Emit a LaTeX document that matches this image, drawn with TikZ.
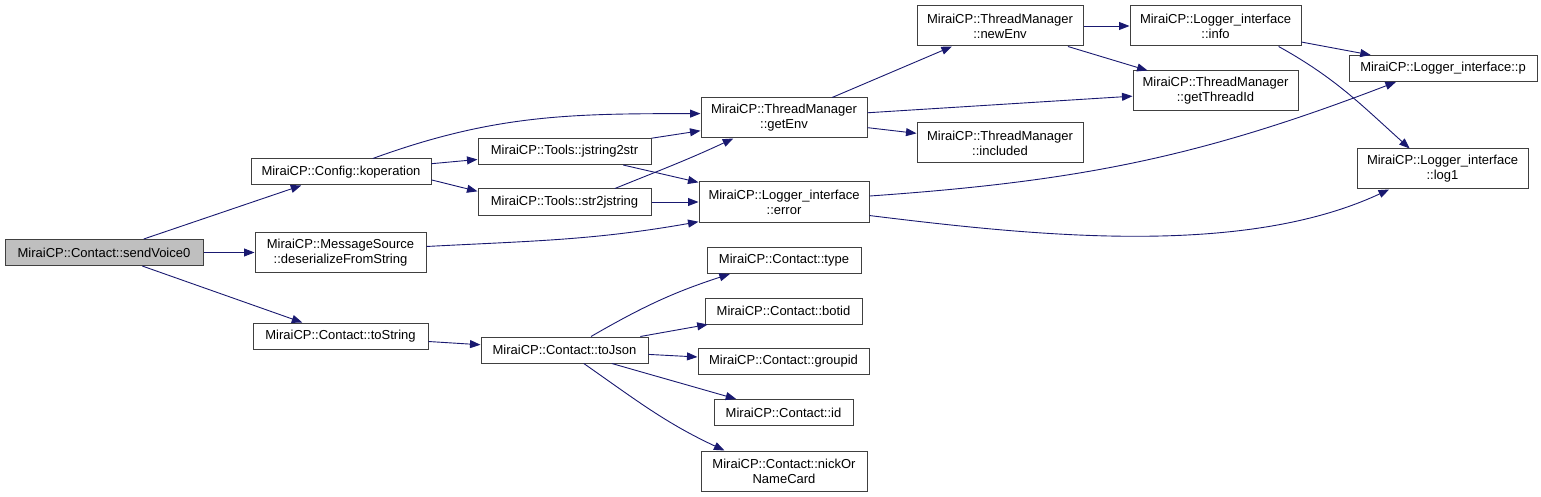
\documentclass[tikz,border=0pt]{standalone}
\usepackage{fontspec}
\setmainfont{Liberation Sans}
\usetikzlibrary{arrows.meta}

\definecolor{callblue}{RGB}{25,25,112}
\definecolor{boxline}{RGB}{64,64,64}
\definecolor{rootfill}{RGB}{191,191,191}

\begin{document}
\begin{tikzpicture}[x=1pt, y=1pt, >={Triangle[length=10.5pt, width=8pt]},
    font=\fontsize{13}{15}\selectfont,
    fn/.style={draw=boxline, line width=1pt, fill=white, inner sep=0pt, align=center},
    root/.style={fn, fill=rootfill},
    oneline/.style={minimum height=26pt},
    twoline/.style={minimum height=40pt},
    call/.style={->, callblue, line width=0.9pt}]
    \useasboundingbox (0,0) rectangle (1541,-497);

    % --- Caller ---
    \node[root, oneline, minimum width=198pt] (sendvoice) at (104,-252.5) {MiraiCP::Contact::sendVoice0};

    % --- First level ---
    \node[fn, oneline, minimum width=180pt] (koperation) at (341,-172) {MiraiCP::Config::koperation};
    \node[fn, twoline, minimum width=171pt] (deserialize) at (340.5,-252.5) {MiraiCP::MessageSource\\::deserializeFromString};
    \node[fn, oneline, minimum width=175pt] (tostring) at (340.5,-336) {MiraiCP::Contact::toString};

    % --- Second level ---
    \node[fn, oneline, minimum width=173pt] (jstr) at (564.5,-151.5) {MiraiCP::Tools::jstring2str};
    \node[fn, oneline, minimum width=173pt] (strj) at (564.5,-202) {MiraiCP::Tools::str2jstring};
    \node[fn, oneline, minimum width=167pt] (tojson) at (564.5,-350) {MiraiCP::Contact::toJson};

    % --- Third level ---
    \node[fn, twoline, minimum width=166pt] (getenv) at (784,-118) {MiraiCP::ThreadManager\\::getEnv};
    \node[fn, twoline, minimum width=170pt] (error) at (784,-202) {MiraiCP::Logger\_interface\\::error};
    \node[fn, oneline, minimum width=154pt] (type) at (784,-260.5) {MiraiCP::Contact::type};
    \node[fn, oneline, minimum width=157pt] (botid) at (783.5,-311) {MiraiCP::Contact::botid};
    \node[fn, oneline, minimum width=171pt] (groupid) at (783.5,-361.5) {MiraiCP::Contact::groupid};
    \node[fn, oneline, minimum width=139pt] (cid) at (783.5,-412.5) {MiraiCP::Contact::id};
    \node[fn, twoline, minimum width=166pt] (nick) at (784,-471) {MiraiCP::Contact::nickOr\\NameCard};

    % --- Thread manager and logger ---
    \node[fn, twoline, minimum width=166pt] (newenv) at (1000,-26) {MiraiCP::ThreadManager\\::newEnv};
    \node[fn, twoline, minimum width=166pt] (included) at (1000,-143) {MiraiCP::ThreadManager\\::included};
    \node[fn, twoline, minimum width=171pt] (info) at (1215.5,-26) {MiraiCP::Logger\_interface\\::info};
    \node[fn, twoline, minimum width=165pt] (threadid) at (1215.5,-91) {MiraiCP::ThreadManager\\::getThreadId};
    \node[fn, oneline, minimum width=188pt] (logp) at (1443,-68.5) {MiraiCP::Logger\_interface::p};
    \node[fn, twoline, minimum width=171pt] (logone) at (1442.5,-169) {MiraiCP::Logger\_interface\\::log1};

    % --- Calls ---
    \draw[call] (sendvoice) -- (koperation);
    \draw[call] (sendvoice) -- (deserialize);
    \draw[call] (sendvoice) -- (tostring);

    \draw[call] (koperation.23) to[out=20, in=180] (getenv.177);
    \draw[call] (koperation) -- (jstr);
    \draw[call] (koperation.-5) -- (strj.173);
    \draw[call] (deserialize.4) to[out=3, in=190] (error.193);
    \draw[call] (tostring) -- (tojson);

    \draw[call] (jstr) -- (getenv);
    \draw[call] (jstr) -- (error);
    \draw[call] (strj.15) to[out=22, in=205] (getenv.202);
    \draw[call] (strj) -- (error);

    \draw[call] (tojson.27) to[out=30, in=198] (type.194);
    \draw[call] (tojson) -- (botid);
    \draw[call] (tojson) -- (groupid);
    \draw[call] (tojson) -- (cid);
    \draw[call] (tojson.-35) to[out=-35, in=155] (nick.161);

    \draw[call] (getenv) -- (newenv);
    \draw[call] (getenv) -- (threadid);
    \draw[call] (getenv) -- (included);
    \draw[call] (error.4) to[out=4, in=201] (logp.196);
    \draw[call] (error.-9) to[out=-7, in=205, looseness=0.8] (logone.201);

    \draw[call] (newenv) -- (info);
    \draw[call] (newenv) -- (threadid);
    \draw[call] (info) -- (logp);
    \draw[call] (info.-18) to[out=-29, in=138] (logone.148);
  \end{tikzpicture}
\end{document}
